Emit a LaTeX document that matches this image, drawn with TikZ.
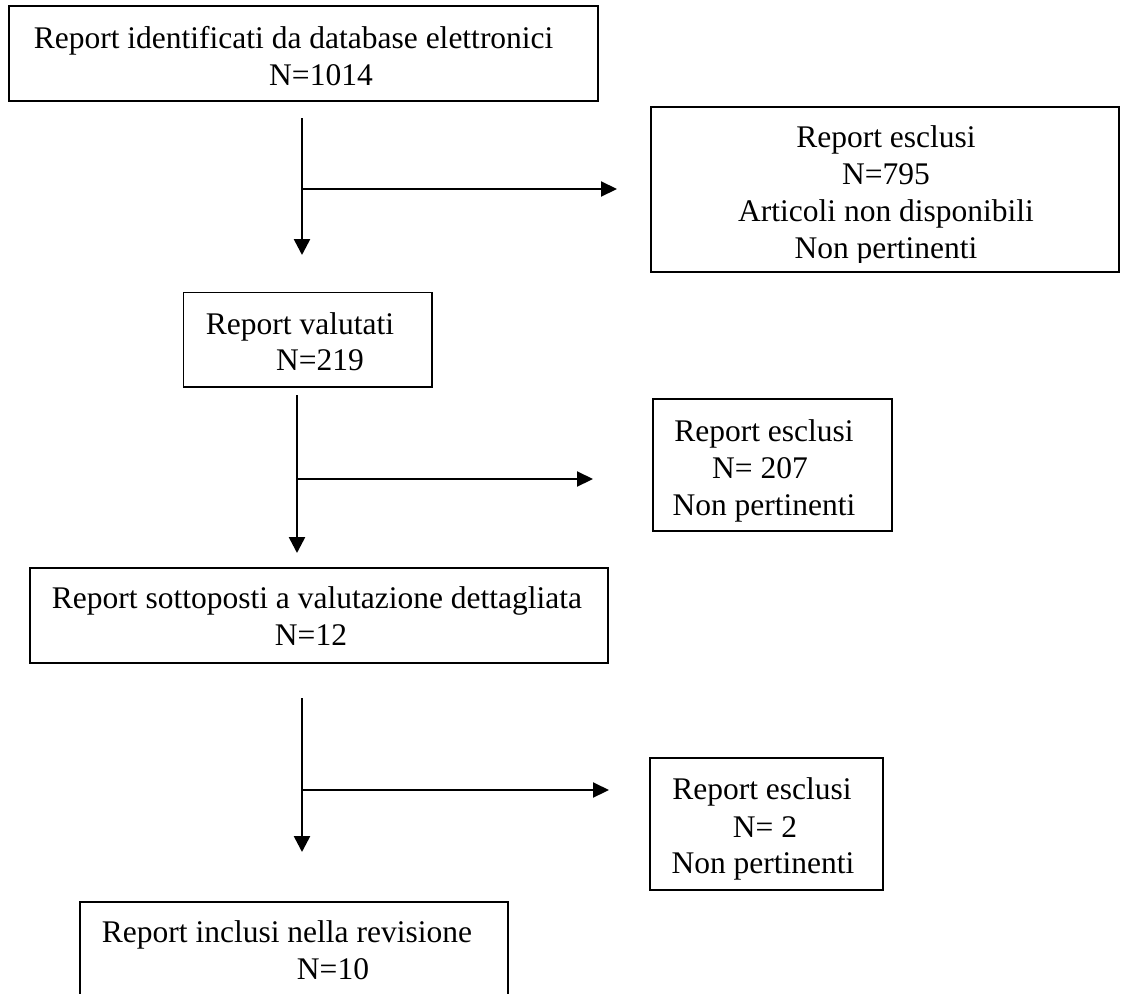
\documentclass[tikz,border=0pt]{standalone}
\usepackage{fontspec}
\setmainfont{Liberation Serif}
\usetikzlibrary{arrows.meta}
\tikzset{
  box/.style={draw=black, line width=1.7pt, rectangle, inner sep=0pt},
  txt/.style={inner sep=0pt, anchor=base, font=\fontsize{31.5}{37}\selectfont},
  flow/.style={line width=2.6pt, -{Triangle[length=16pt,width=16pt]}},
  side/.style={line width=2.1pt, -{Triangle[length=16pt,width=15pt]}},
}
\begin{document}
\begin{tikzpicture}[x=1pt,y=-1pt]
\useasboundingbox (0,0) rectangle (1126,993);
% boxes
\node[box, minimum width=589, minimum height=95] (b1) at (303.5,53.5) {};
\node[box, minimum width=468, minimum height=165] (b2) at (885,189.5) {};
\node[box, minimum width=248.5, minimum height=94.5] (b3) at (307.75,339.75) {};
\node[box, minimum width=239, minimum height=132] (b4) at (772.5,465) {};
\node[box, minimum width=578, minimum height=95] (b5) at (319,615.2) {};
\node[box, minimum width=233, minimum height=132] (b6) at (766.5,824) {};
\draw[line width=1.7pt] (80,1000) -- (80,902) coordinate (b7tl) -- (508,902) coordinate (b7tr) -- (508,1000);
% texts
\node[txt] (t1a) at (293.6,48) {Report identificati da database elettronici};
\node[txt] (t1b) at (321,85) {N=1014};
\node[txt] (t2a) at (886,147) {Report esclusi};
\node[txt] (t2b) at (886,184) {N=795};
\node[txt] (t2c) at (886,221) {Articoli non disponibili};
\begin{scope}
\clip (652,230) rectangle (1118,262);
\node[txt] (t2d) at (886,258) {Non pertinenti};
\end{scope}
\node[txt] (t3a) at (300,334) {Report valutati};
\node[txt] (t3b) at (320,370) {N=219};
\node[txt] (t4a) at (764,441) {Report esclusi};
\node[txt] (t4b) at (760,478) {N= 207};
\node[txt] (t4c) at (764,515) {Non pertinenti};
\node[txt] (t5a) at (317,608) {Report sottoposti a valutazione dettagliata};
\node[txt] (t5b) at (311,645) {N=12};
\node[txt] (t6a) at (762,799) {Report esclusi};
\node[txt] (t6b) at (765,837) {N= 2};
\node[txt] (t6c) at (763,873) {Non pertinenti};
\node[txt] (t7a) at (287,942) {Report inclusi nella revisione};
\node[txt] (t7b) at (333,979) {N=10};
% connectors
\coordinate (a1s) at (302,118); \coordinate (a1e) at (302,255);
\coordinate (a1j) at (302,189); \coordinate (a1r) at (617,189);
\draw[flow] (a1s) -- (a1e);
\draw[side] (a1j) -- (a1r);
\coordinate (a2s) at (297,395); \coordinate (a2e) at (297,553);
\coordinate (a2j) at (297,479); \coordinate (a2r) at (593,479);
\draw[flow] (a2s) -- (a2e);
\draw[side] (a2j) -- (a2r);
\coordinate (a3s) at (302,698); \coordinate (a3e) at (302,852);
\coordinate (a3j) at (302,790); \coordinate (a3r) at (609,790);
\draw[flow] (a3s) -- (a3e);
\draw[side] (a3j) -- (a3r);
\end{tikzpicture}
\end{document}
